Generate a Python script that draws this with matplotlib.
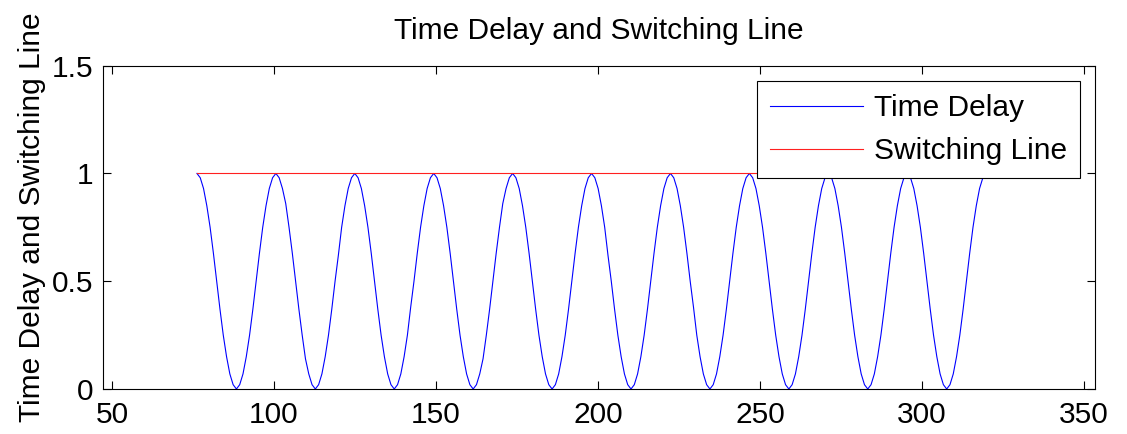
import numpy as np
import matplotlib
matplotlib.use("Agg")
import matplotlib.pyplot as plt

plt.rcParams['font.family'] = ['Liberation Sans', 'DejaVu Sans']

# time delay (one row per period, peak to peak)
delay_y = [
    1.00, 0.98, 0.93, 0.85, 0.75, 0.63, 0.50, 0.37, 0.25, 0.15, 0.07, 0.02,
    0.00, 0.02, 0.07, 0.15, 0.25, 0.37, 0.50, 0.63, 0.75, 0.85, 0.93, 0.98,
    1.00, 0.98, 0.93, 0.86, 0.75, 0.63, 0.50, 0.37, 0.25, 0.14, 0.07, 0.02,
    0.00, 0.02, 0.07, 0.15, 0.25, 0.37, 0.50, 0.62, 0.75, 0.85, 0.93, 0.98,
    1.00, 0.98, 0.93, 0.85, 0.75, 0.63, 0.50, 0.37, 0.25, 0.15, 0.07, 0.02,
    0.00, 0.02, 0.07, 0.15, 0.25, 0.38, 0.50, 0.63, 0.75, 0.85, 0.93, 0.98,
    1.00, 0.98, 0.93, 0.85, 0.75, 0.63, 0.50, 0.37, 0.25, 0.15, 0.07, 0.02,
    0.00, 0.02, 0.07, 0.14, 0.25, 0.37, 0.50, 0.63, 0.75, 0.86, 0.93, 0.98,
    1.00, 0.98, 0.93, 0.85, 0.75, 0.63, 0.50, 0.37, 0.25, 0.15, 0.07, 0.02,
    0.00, 0.02, 0.07, 0.15, 0.25, 0.37, 0.50, 0.63, 0.75, 0.85, 0.93, 0.98,
    1.00, 0.98, 0.93, 0.85, 0.75, 0.62, 0.50, 0.37, 0.25, 0.15, 0.07, 0.02,
    0.00, 0.02, 0.07, 0.15, 0.25, 0.37, 0.50, 0.63, 0.75, 0.85, 0.93, 0.98,
    1.00, 0.98, 0.93, 0.85, 0.75, 0.63, 0.50, 0.38, 0.25, 0.15, 0.07, 0.02,
    0.00, 0.02, 0.07, 0.15, 0.25, 0.37, 0.50, 0.63, 0.75, 0.85, 0.93, 0.98,
    1.00, 0.98, 0.93, 0.85, 0.75, 0.63, 0.50, 0.37, 0.25, 0.15, 0.07, 0.02,
    0.00, 0.02, 0.07, 0.15, 0.25, 0.37, 0.50, 0.63, 0.75, 0.85, 0.93, 0.98,
    1.00, 0.98, 0.93, 0.85, 0.75, 0.63, 0.50, 0.37, 0.25, 0.15, 0.07, 0.02,
    0.00, 0.02, 0.07, 0.15, 0.25, 0.37, 0.50, 0.63, 0.75, 0.85, 0.93, 0.98,
    1.00, 0.98, 0.93, 0.85, 0.75, 0.63, 0.50, 0.37, 0.25, 0.15, 0.07, 0.02,
    0.00, 0.02, 0.07, 0.15, 0.25, 0.37, 0.50, 0.63, 0.75, 0.85, 0.93, 0.98,
    1.00,
]
t_start = 76.2
t_end = 319.8
delay_x = np.linspace(t_start, t_end, len(delay_y))

switch_x = [76.2, 319.8]
switch_y = [1.0, 1.0]

x_ticks = [50, 100, 150, 200, 250, 300, 350]
y_ticks = [0, 0.5, 1, 1.5]
y_tick_labels = ["0", "0.5", "1", "1.5"]

fig = plt.figure(figsize=(11.27, 4.34), dpi=100)
ax = fig.add_axes([0.0914, 0.1037, 0.8802, 0.745])

ax.plot(delay_x, delay_y, color='#0000ff', lw=0.8, label='Time Delay')
ax.plot(switch_x, switch_y, color='#ff2020', lw=0.8, label='Switching Line')

ax.set_xlim(47.2, 353.4)
ax.set_ylim(0, 1.5)
ax.set_xticks(x_ticks)
ax.set_yticks(y_ticks)
ax.set_yticklabels(y_tick_labels)
ax.tick_params(direction='in', length=6, width=0.8, labelsize=21.5,
               top=True, right=True)
ax.tick_params(axis='x', pad=9)
ax.tick_params(axis='y', pad=7)
for s in ax.spines.values():
    s.set_linewidth(0.8)

ax.set_title("Time Delay and Switching Line", fontsize=21.5, pad=19)
ax.set_ylabel("Time Delay and Switching Line", fontsize=21.5, labelpad=4)
ax.yaxis.label.set_y(0.53)

leg = ax.legend(loc='upper right', fontsize=21.5, fancybox=False,
                edgecolor='black', framealpha=1, handlelength=3.1,
                handletextpad=0.35, labelspacing=0.5, borderpad=0.45,
                borderaxespad=0.5)
leg.get_frame().set_linewidth(0.8)

fig.savefig("out.png", dpi=100)
